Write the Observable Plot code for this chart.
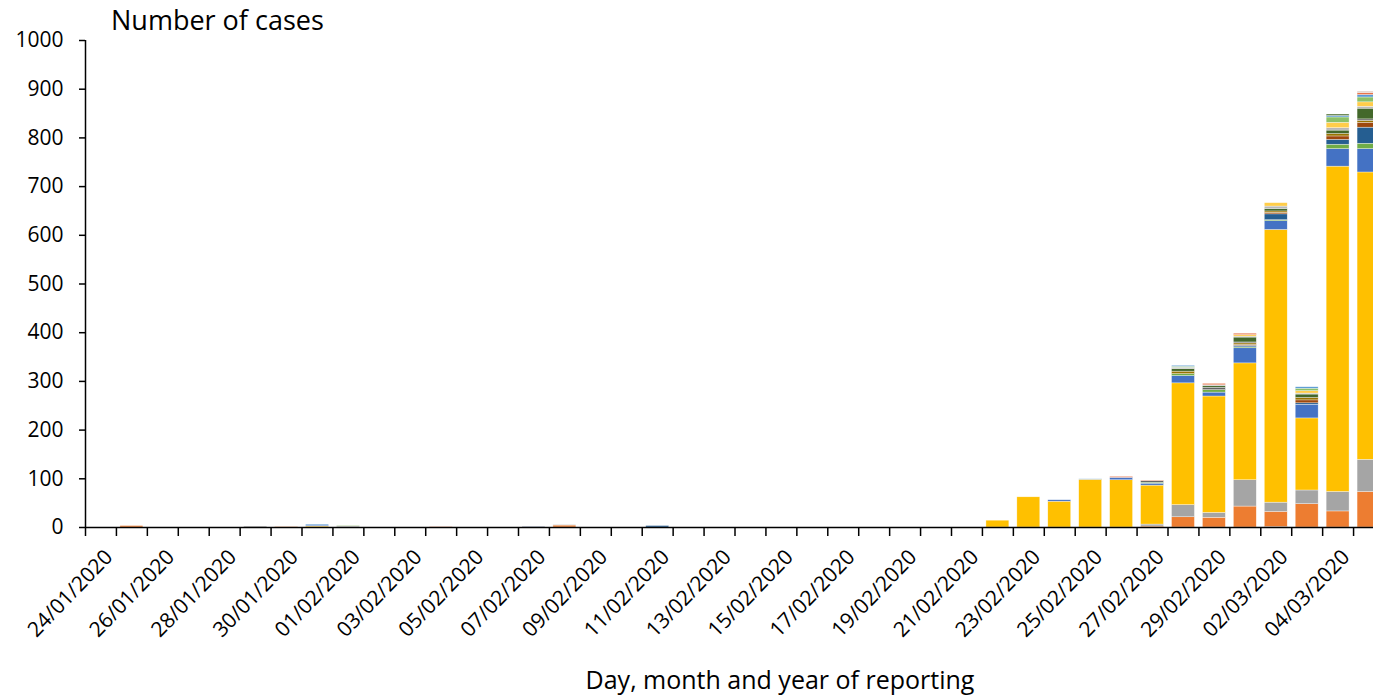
<!DOCTYPE html>
<html><head><meta charset="utf-8">
<script src="https://cdn.jsdelivr.net/npm/d3@7"></script>
<script src="https://cdn.jsdelivr.net/npm/@observablehq/plot@0.6"></script>
<style>
html,body{margin:0;padding:0;background:#fff;overflow:hidden;}
#wrap{position:relative;width:1373px;height:698px;overflow:hidden;font-family:"Open Sans",sans-serif;color:#000;}
#chart{position:absolute;left:0;top:0;width:1384px;}
#ytitle{position:absolute;left:111px;top:6px;font-size:27px;line-height:1;white-space:nowrap;}
#xtitle{position:absolute;left:380px;width:800px;text-align:center;top:667px;font-size:25px;line-height:1;white-space:nowrap;}
</style></head><body>
<div id="wrap"><div id="chart"></div><div id="ytitle">Number of cases</div><div id="xtitle">Day, month and year of reporting</div></div>
<script>
const dates = ["24/01/2020","25/01/2020","26/01/2020","27/01/2020","28/01/2020","29/01/2020","30/01/2020","31/01/2020","01/02/2020","02/02/2020",
"03/02/2020","04/02/2020","05/02/2020","06/02/2020","07/02/2020","08/02/2020","09/02/2020","10/02/2020","11/02/2020","12/02/2020",
"13/02/2020","14/02/2020","15/02/2020","16/02/2020","17/02/2020","18/02/2020","19/02/2020","20/02/2020","21/02/2020","22/02/2020",
"23/02/2020","24/02/2020","25/02/2020","26/02/2020","27/02/2020","28/02/2020","29/02/2020","01/03/2020","02/03/2020","03/03/2020","04/03/2020","05/03/2020"];
const tickLabels = ["24/01/2020","26/01/2020","28/01/2020","30/01/2020","01/02/2020","03/02/2020","05/02/2020","07/02/2020","09/02/2020","11/02/2020","13/02/2020",
"15/02/2020","17/02/2020","19/02/2020","21/02/2020","23/02/2020","25/02/2020","27/02/2020","29/02/2020","02/03/2020","04/03/2020"];
const yTicks = [0,100,200,300,400,500,600,700,800,900,1000];

// one array per reporting country (stack order bottom -> top), 42 days each
const sNavy    = [0,0,0,0,0,0,0,0,0,0, 0,0,0,0,1,0,0,0,0,0, 0,0,0,0,0,0,0,0,0,0, 0,0,0,0,0,0,0,0,1,0,0,0];
const sFrance  = [0,3,0,0,0,0,1,0,0,0, 0,0,0,0,0,4,0,0,0,0, 0,0,0,0,0,0,0,0,0,0, 0,0,0,0,2,21,20,43,31,48,33,73];
const sGermany = [0,0,0,0,0,2,0,0,2,0, 0,0,0,0,0,1,0,0,0,0, 0,0,0,0,0,0,0,0,0,0, 0,0,0,0,4,25,10,54,19,28,40,66];
const sItaly   = [0,0,0,0,0,0,0,2,0,0, 0,0,0,0,0,0,0,0,0,0, 0,0,0,0,0,0,0,0,0,14, 62,53,98,97,80,250,239,240,560,148,668,590];
const sSpain   = [0,0,0,0,0,0,0,2,0,0, 0,0,0,0,0,0,0,0,0,0, 0,0,0,0,0,0,0,0,0,0, 0,3,0,5,4,15,8,31,18,28,36,48];
const s05 = [0,0,0,0,0,0,0,0,1,0, 0,0,0,0,0,0,0,0,0,0, 0,0,0,0,0,0,0,0,0,0, 0,0,0,0,2,4,5,2,2,0,9,11];
const s06 = [0,0,0,0,0,0,0,0,0,0, 0,0,0,0,0,0,0,0,3,0, 0,0,0,0,0,0,0,0,0,0, 0,0,0,0,0,0,0,3,12,3,10,33];
const s07 = [0,0,0,0,0,0,0,0,0,0, 0,0,0,0,0,0,0,0,0,0, 0,0,0,0,0,0,0,0,0,0, 0,0,0,0,0,0,0,2,3,6,7,10];
const s08 = [0,0,0,0,0,0,0,0,0,0, 0,0,0,0,0,0,0,0,0,0, 0,0,0,0,0,0,0,0,0,0, 0,0,0,0,0,5,0,3,3,5,5,4];
const s09 = [0,0,0,0,0,0,0,0,0,0, 0,0,0,0,0,0,0,0,0,0, 0,0,0,0,0,0,0,0,0,0, 0,0,0,0,3,0,5,2,0,0,0,3];
const s10 = [0,0,0,0,0,0,0,0,0,0, 0,0,0,0,0,0,0,0,0,0, 0,0,0,0,0,0,0,0,0,0, 0,0,0,0,0,5,3,10,5,7,7,22];
const s11 = [0,0,0,0,0,0,0,0,0,0, 0,0,0,0,0,0,0,0,0,0, 0,0,0,0,0,0,0,0,0,0, 0,0,0,0,0,3,2,2,5,2,5,4];
const s12 = [0,0,0,0,0,0,0,0,0,0, 0,0,0,0,0,0,0,0,0,0, 0,0,0,0,0,0,0,0,0,0, 0,0,0,0,0,0,0,3,7,5,11,9];
const s13 = [0,0,0,0,0,0,0,0,0,0, 0,0,0,0,0,0,0,0,0,0, 0,0,0,0,0,0,0,0,0,0, 0,0,0,0,0,2,0,0,0,5,11,10];
const s14 = [0,0,0,0,0,0,0,2,0,0, 0,0,0,0,0,0,0,0,0,0, 0,0,0,0,0,0,0,0,0,0, 0,0,1,0,0,2,0,0,0,3,3,5];
const s15 = [0,0,0,0,0,0,0,0,0,0, 0,1,0,0,0,0,0,0,0,0, 0,0,0,0,0,0,0,0,0,0, 0,0,0,2,1,0,3,3,0,0,0,4];
const s16 = [0,0,0,0,0,0,0,0,0,0, 0,0,0,0,0,0,0,0,0,0, 0,0,0,0,0,0,0,0,0,0, 0,0,0,0,0,0,0,0,0,0,3,0];
const s17 = [0,0,0,0,0,0,0,0,0,0, 0,0,0,0,0,0,0,0,0,0, 0,0,0,0,0,0,0,0,0,0, 0,0,0,0,0,0,0,0,0,0,0,3];

const seriesNames  = ["A","France","Germany","Italy","Spain","B","C","D","E","F","G","H","I","J","K","L","M","N"];
const seriesValues = [sNavy,sFrance,sGermany,sItaly,sSpain,s05,s06,s07,s08,s09,s10,s11,s12,s13,s14,s15,s16,s17];
const seriesColors = ["#203864","#ED7D31","#A5A5A5","#FFC000","#4472C4","#70AD47","#255E91","#9E480E","#997300","#636363",
                      "#43682B","#B7B7B7","#FFCD4A","#8CC168","#5B9BD5","#E8744A","#4B6E2E","#D9C3BA"];

const parse = d3.utcParse("%d/%m/%Y");
const fmt = d3.utcFormat("%d/%m/%Y");
const rows = [];
seriesValues.forEach((vals, s) => vals.forEach((v, i) => {
  if (v > 0) rows.push({date: parse(dates[i]), series: seriesNames[s], value: v});
}));
const xStart = parse(dates[0]);
const xEnd = d3.utcDay.offset(parse(dates[dates.length - 1]), 1);
const boundaries = dates.map(parse).concat([xEnd]);
const labelTicks = tickLabels.map(d => d3.utcHour.offset(parse(d), 12));

const chart = Plot.plot({
  width: 1384, height: 698,
  marginLeft: 85, marginRight: 0, marginTop: 40, marginBottom: 171,
  style: {fontFamily: "'Open Sans', sans-serif", fontSize: "21px", color: "#000", background: "transparent", maxWidth: "none", overflow: "visible"},
  x: {type: "utc", domain: [xStart, xEnd]},
  y: {domain: [0, 1000]},
  color: {domain: seriesNames, range: seriesColors},
  marks: [
    Plot.rectY(rows, {x: "date", y: "value", interval: "day", fill: "series", order: seriesNames,
      insetLeft: 4, insetRight: 4, stroke: "#fff", strokeWidth: 0.5, strokeOpacity: 0.7}),
    Plot.ruleY([0], {stroke: "#000", strokeWidth: 1.5}),
    Plot.ruleX([xStart], {y1: 0, y2: 1000, stroke: "#000", strokeWidth: 1.5}),
    Plot.axisY({ticks: yTicks, tickSize: 6, tickPadding: 16, label: null, tickFormat: d => String(d), stroke: "#000", strokeWidth: 1.5}),
    Plot.axisX({ticks: boundaries, tickSize: 9, tickFormat: () => "", label: null, stroke: "#000", strokeWidth: 1.5}),
    Plot.axisX({ticks: labelTicks, tickSize: 0, tickPadding: 26, dx: 8, tickRotate: -46, tickFormat: fmt, label: null, fontSize: 21})
  ]
});
document.getElementById("chart").appendChild(chart);
</script>
</body></html>
